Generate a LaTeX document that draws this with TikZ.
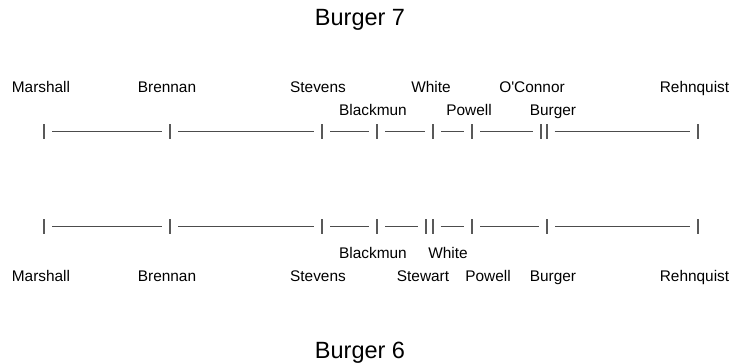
\documentclass[tikz,border=0pt]{standalone}
\usepackage{fontspec}
\setmainfont{Liberation Sans}
\usepackage{tikz}

\begin{document}
\begin{tikzpicture}[x=1pt,y=1pt]
\tikzstyle{every node}+=[inner sep=0pt, anchor=base]
\tikzstyle{justice}=[font=\fontsize{15.4}{18}\selectfont]
\tikzstyle{heading}=[font=\fontsize{23.5}{28}\selectfont]
\tikzstyle{bar}=[draw=black!65, line width=1.6pt]
\tikzstyle{rule}=[draw=black!70, line width=1.1pt, shorten <=8pt, shorten >=8pt]
\useasboundingbox (0,0) rectangle (730,-362);
% Burger 7
\draw (360,-25) node [heading] (top) {Burger 7};
\draw (41,-92) node [justice] (marshallA) {Marshall};
\draw (167,-92) node [justice] (brennanA) {Brennan};
\draw (318,-92) node [justice] (stevensA) {Stevens};
\draw (431,-92) node [justice] (whiteA) {White};
\draw (532,-92) node [justice] (oconnorA) {O\textquotesingle Connor};
\draw (694.5,-92) node [justice] (rehnquistA) {Rehnquist};
\draw (373,-115) node [justice] (blackmunA) {Blackmun};
\draw (469,-115) node [justice] (powellA) {Powell};
\draw (553,-115) node [justice] (burgerA) {Burger};
\coordinate (a1) at (44,-131.7);
\coordinate (a2) at (170,-131.7);
\coordinate (a3) at (322,-131.7);
\coordinate (a4) at (377,-131.7);
\coordinate (a5) at (433,-131.7);
\coordinate (a6) at (472,-131.7);
\coordinate (a7) at (541,-131.7);
\coordinate (a8) at (546.7,-131.7);
\coordinate (a9) at (698,-131.7);
\foreach \c in {a1,a2,a3,a4,a5,a6,a7,a8,a9}
  \draw [bar] ([yshift=7.5pt]\c) -- ([yshift=-7.5pt]\c);
\draw [rule] (a1) -- (a2);
\draw [rule] (a2) -- (a3);
\draw [rule] (a3) -- (a4);
\draw [rule] (a4) -- (a5);
\draw [rule] (a5) -- (a6);
\draw [rule] (a6) -- (a7);
\draw [rule] (a8) -- (a9);
% Burger 6
\coordinate (b1) at (44,-226.7);
\coordinate (b2) at (170,-226.7);
\coordinate (b3) at (322,-226.7);
\coordinate (b4) at (377,-226.7);
\coordinate (b5) at (425.7,-226.7);
\coordinate (b6) at (432.7,-226.7);
\coordinate (b7) at (472,-226.7);
\coordinate (b8) at (547,-226.7);
\coordinate (b9) at (698,-226.7);
\foreach \c in {b1,b2,b3,b4,b5,b6,b7,b8,b9}
  \draw [bar] ([yshift=7.5pt]\c) -- ([yshift=-7.5pt]\c);
\draw [rule] (b1) -- (b2);
\draw [rule] (b2) -- (b3);
\draw [rule] (b3) -- (b4);
\draw [rule] (b4) -- (b5);
\draw [rule] (b6) -- (b7);
\draw [rule] (b7) -- (b8);
\draw [rule] (b8) -- (b9);
\draw (373,-258) node [justice] (blackmunB) {Blackmun};
\draw (448,-258) node [justice] (whiteB) {White};
\draw (41,-281.7) node [justice] (marshallB) {Marshall};
\draw (167,-281.7) node [justice] (brennanB) {Brennan};
\draw (318,-281.7) node [justice] (stevensB) {Stevens};
\draw (423,-281.7) node [justice] (stewartB) {Stewart};
\draw (488,-281.7) node [justice] (powellB) {Powell};
\draw (553,-281.7) node [justice] (burgerB) {Burger};
\draw (694.5,-281.7) node [justice] (rehnquistB) {Rehnquist};
\draw (360,-358) node [heading] (bottom) {Burger 6};
\end{tikzpicture}
\end{document}
